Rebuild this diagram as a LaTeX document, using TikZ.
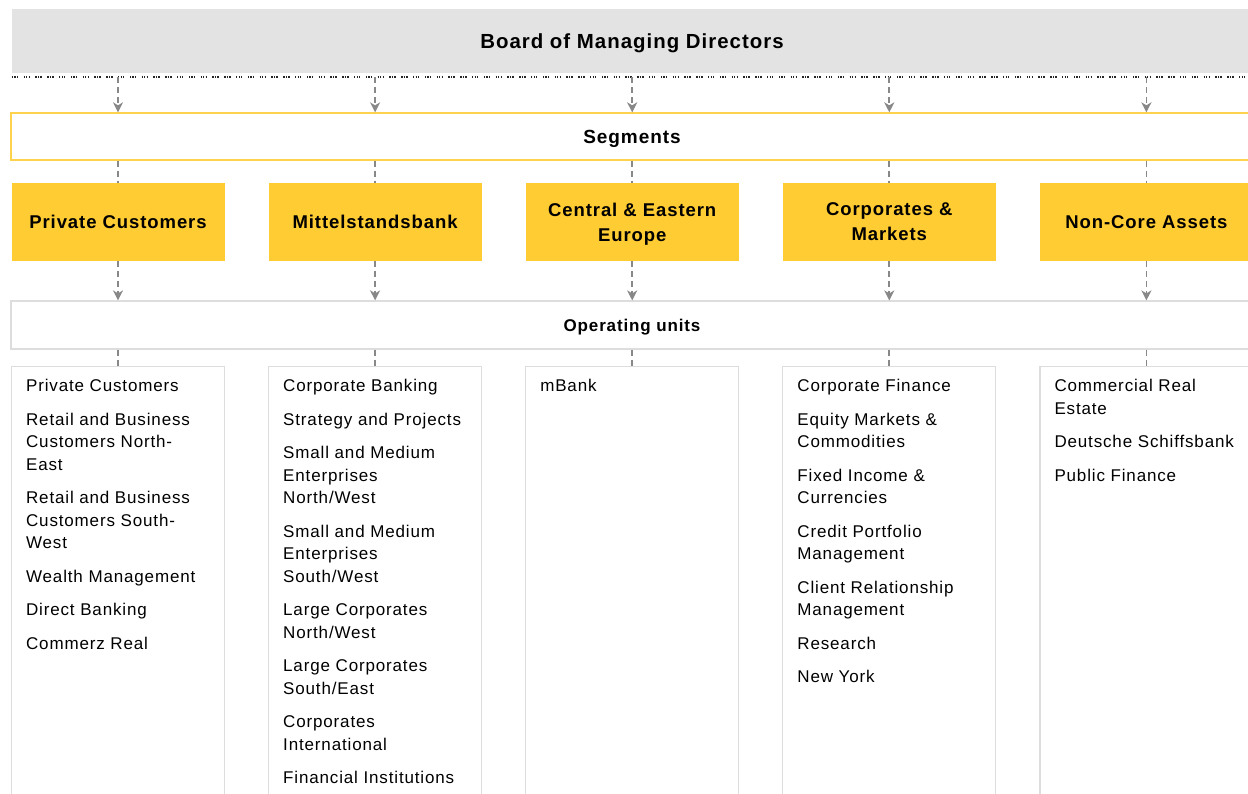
\documentclass[tikz,border=0pt]{standalone}
\usepackage{fontspec}
\setmainfont{Liberation Sans}[LetterSpace=5]
\usepackage{xcolor}
\definecolor{boardgray}{HTML}{E3E3E3}
\definecolor{segyellow}{HTML}{FFCC33}
\definecolor{barline}{HTML}{FFD24D}
\definecolor{boxline}{HTML}{DDDDDD}
\definecolor{connline}{HTML}{888888}
\usetikzlibrary{arrows.meta,positioning,calc}

\begin{document}
\begin{tikzpicture}[x=1pt,y=-1pt,declare function={%
			d=257.1;
		}
		]%
		\tikzset{
			boardstyle/.style={fill=boardgray,minimum width=1240pt,minimum height=64pt,inner sep=0pt,text depth=0pt,font=\fontsize{20.4}{24}\bfseries\selectfont},
			segbar/.style={draw=barline,line width=1.3pt,fill=white,minimum width=1242pt,minimum height=47pt,inner sep=0pt,text depth=0pt,font=\fontsize{19}{23}\bfseries\selectfont},
			segbox/.style={fill=segyellow,minimum width=213pt,minimum height=78pt,inner sep=0pt,align=center,text depth=0pt,font=\fontsize{18.5}{25}\bfseries\selectfont},
			opsbar/.style={draw=boxline,line width=1.2pt,minimum width=1242pt,minimum height=48pt,inner sep=0pt,text depth=0pt,font=\fontsize{17}{21}\bfseries\selectfont},
			unitbox/.style={draw=boxline,line width=1.2pt,minimum width=213pt,minimum height=460pt,inner sep=0pt},
			unittext/.style={anchor=north west,inner sep=0pt,align=left,font=\fontsize{17}{22.5}\selectfont},
			conn/.style={draw=connline,line width=1.7pt,dash pattern=on 6pt off 4pt},
			connarrow/.style={conn,-{Stealth[length=10pt,width=10pt,inset=3pt]}},
			dotline/.style={draw=black!85,line width=1.6pt,dash pattern=on 1.3pt off 1.2pt on 1.3pt off 1.2pt on 1.3pt off 5.5pt}
		}
		\useasboundingbox (0,0) rectangle (1248,793);
		%%%board and the two bars
		\path (632,41) node[boardstyle] (board) {Board of Managing Directors};
		\coordinate (dl) at ([yshift=-4pt]board.south);
		\draw[dotline] (dl -| board.west) -- (dl -| board.east);
		\path (632,136.5) node[segbar] (segs) {Segments};
		\path (632,325) node[opsbar] (ops) {Operating units};
		%%%segments, units, connectors
		\foreach \i/\n/\t in {0/pc/{Private Customers},1/mb/{Mittelstandsbank},2/cee/{Central \& Eastern\\Europe},3/cm/{Corporates \&\\Markets},4/nca/{Non-Core Assets}}{%
			\path (118+\i*d,222) node[segbox] (\n) {\t};
			\path (118+\i*d,366) node[unitbox,anchor=north] (u\n) {};
			\draw[connarrow] (\n |- dl) -- (\n |- segs.north);
			\draw[conn] (\n |- segs.south) -- (\n.north);
			\draw[connarrow] (\n.south) -- (\n |- ops.north);
			\draw[conn] (\n |- ops.south) -- (u\n.north);
		}
		%%%lists of units
		\path ([xshift=15pt,yshift=-13pt]upc.north west) node[unittext] (lpc) {Private Customers\\[11pt]Retail and Business\\Customers North-\\East\\[11pt]Retail and Business\\Customers South-\\West\\[11pt]Wealth Management\\[11pt]Direct Banking\\[11pt]Commerz Real};
		\path ([xshift=15pt,yshift=-13pt]umb.north west) node[unittext] (lmb) {Corporate Banking\\[11pt]Strategy and Projects\\[11pt]Small and Medium\\Enterprises\\North/West\\[11pt]Small and Medium\\Enterprises\\South/West\\[11pt]Large Corporates\\North/West\\[11pt]Large Corporates\\South/East\\[11pt]Corporates\\International\\[11pt]Financial Institutions};
		\path ([xshift=15pt,yshift=-13pt]ucee.north west) node[unittext] (lcee) {mBank};
		\path ([xshift=15pt,yshift=-13pt]ucm.north west) node[unittext] (lcm) {Corporate Finance\\[11pt]Equity Markets \&\\Commodities\\[11pt]Fixed Income \&\\Currencies\\[11pt]Credit Portfolio\\Management\\[11pt]Client Relationship\\Management\\[11pt]Research\\[11pt]New York};
		\path ([xshift=15pt,yshift=-13pt]unca.north west) node[unittext] (lnca) {Commercial Real\\Estate\\[11pt]Deutsche Schiffsbank\\[11pt]Public Finance};
	\end{tikzpicture}
\end{document}
